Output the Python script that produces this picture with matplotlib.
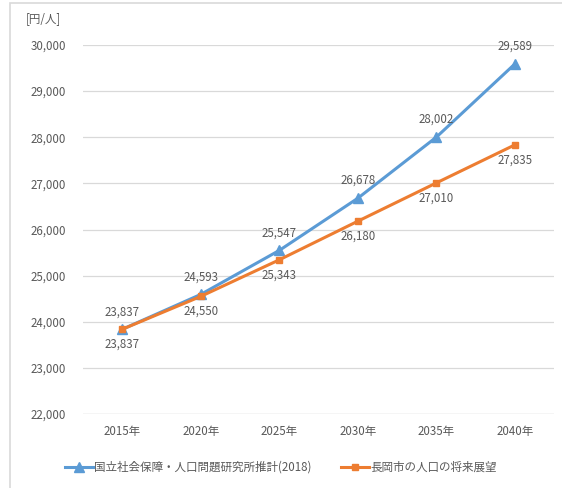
import matplotlib.pyplot as plt
import numpy as np

plt.rcParams['font.family'] = ['Noto Sans CJK JP', 'DejaVu Sans']

years = ['2015年', '2020年', '2025年', '2030年', '2035年', '2040年']
ipss = [23837, 24593, 25547, 26678, 28002, 29589]
nagaoka = [23837, 24550, 25343, 26180, 27010, 27835]
name_ipss = '国立社会保障・人口問題研究所推計(2018)'
name_nagaoka = '長岡市の人口の将来展望'

blue = '#5B9BD5'
orange = '#ED7D31'
txt = '#595959'
fs = 8.3

fig = plt.figure(figsize=(5.62, 4.88), dpi=100)
ax = fig.add_axes([0.1477, 0.1516, 0.8383, 0.7562])

x = np.arange(len(years))
ax.plot(x, ipss, color=blue, lw=2.2, marker='^', ms=7, label=name_ipss, zorder=3)
ax.plot(x, nagaoka, color=orange, lw=2.2, marker='s', ms=5, label=name_nagaoka, zorder=4)

for i in x:
    ax.annotate(f'{ipss[i]:,}', (i, ipss[i]), xytext=(0, 8), textcoords='offset points',
                ha='center', va='bottom', fontsize=fs, color=txt)
    ax.annotate(f'{nagaoka[i]:,}', (i, nagaoka[i]), xytext=(0, -6), textcoords='offset points',
                ha='center', va='top', fontsize=fs, color=txt)

ax.set_xlim(-0.5, len(years) - 0.5)
ax.set_ylim(22000, 30000)
ax.set_yticks(range(22000, 30001, 1000))
ax.set_yticklabels([f'{v:,}' for v in range(22000, 30001, 1000)])
ax.set_xticks(x)
ax.set_xticklabels(years)
ax.tick_params(length=0, labelsize=fs, labelcolor=txt, pad=12)
ax.tick_params(axis='x', pad=8)
ax.grid(axis='y', color='#D9D9D9', lw=0.9)
ax.set_axisbelow(True)
for s in ax.spines.values():
    s.set_visible(False)
ax.axhline(22000, color='#D9D9D9', lw=0.9)

fig.text(0.046, 0.963, '[円/人]', fontsize=fs, color=txt, va='center')

fig.legend(loc='center', bbox_to_anchor=(0.50, 0.042), ncol=2, frameon=False,
           fontsize=fs, labelcolor=txt, handlelength=2.4, handletextpad=0.1,
           columnspacing=2.6)

# chart frame
fig.patches.append(plt.Rectangle((0.018, -0.05), 1.2, 1.043, transform=fig.transFigure,
                                 fill=False, ec='#D9D9D9', lw=1.2))

fig.savefig('out.png', dpi=100)
